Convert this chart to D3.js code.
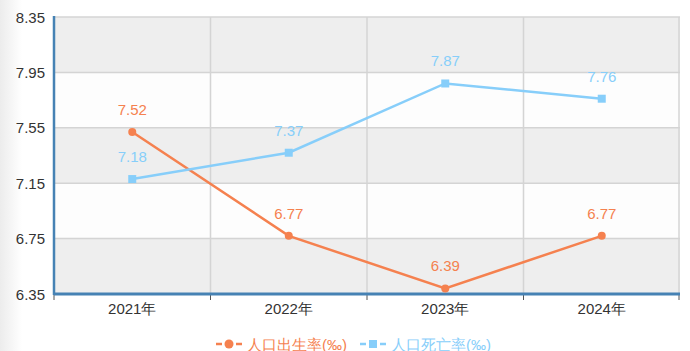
<!DOCTYPE html>
<html>
<head>
<meta charset="utf-8">
<script src="https://cdn.jsdelivr.net/npm/d3@7"></script>
<style>
  body { margin: 0; background: #fff; }
  text { font-family: "Liberation Sans", Arial, sans-serif; }
</style>
</head>
<body>
<div id="chart"></div>
<script>
const w = 690;
const h = 351;

const years = ['2021年', '2022年', '2023年', '2024年'];
const birthRate = [7.52, 6.77, 6.39, 6.77];
const deathRate = [7.18, 7.37, 7.87, 7.76];
const yTicks = [6.35, 6.75, 7.15, 7.55, 7.95, 8.35];
const seriesNames = ['人口出生率(‰)', '人口死亡率(‰)'];

const orange = '#f5814f';
const blue = '#87cefa';

const padL = 54, padR = 680, padT = 17, padB = 294;

const svg = d3.select('#chart').append('svg')
  .attr('width', w).attr('height', h);

// faint shadow on the left edge
const grad = svg.append('defs').append('linearGradient').attr('id', 'shade');
grad.append('stop').attr('offset', '0%').attr('stop-color', '#ececec');
grad.append('stop').attr('offset', '100%').attr('stop-color', '#fff');
svg.append('rect').attr('x', 0).attr('y', 0).attr('width', 22).attr('height', h)
  .attr('fill', 'url(#shade)');

const xScale = d3.scaleBand().domain(years).range([padL, padR]);
const yScale = d3.scaleLinear().domain([6.35, 8.35]).range([padB, padT]);

// alternating bands
for (let i = 0; i < yTicks.length - 1; i++) {
  svg.append('rect')
    .attr('x', padL).attr('width', padR - padL)
    .attr('y', yScale(yTicks[i + 1]))
    .attr('height', yScale(yTicks[i]) - yScale(yTicks[i + 1]))
    .attr('fill', i % 2 === 0 ? '#eeeeee' : '#fdfdfd');
}

// horizontal grid
svg.append('g').selectAll('line').data(yTicks).enter().append('line')
  .attr('x1', padL).attr('x2', padR)
  .attr('y1', d => yScale(d)).attr('y2', d => yScale(d))
  .attr('stroke', '#d4d4d4').attr('stroke-width', 1.5);

// vertical grid
svg.append('g').selectAll('line').data(years.slice(1).concat(['end'])).enter().append('line')
  .attr('x1', d => d === 'end' ? padR - 1 : xScale(d))
  .attr('x2', d => d === 'end' ? padR - 1 : xScale(d))
  .attr('y1', padT).attr('y2', padB)
  .attr('stroke', '#d4d4d4').attr('stroke-width', 1.5);

// y axis labels
svg.append('g').selectAll('text').data(yTicks).enter().append('text')
  .attr('x', 45).attr('y', d => yScale(d))
  .attr('text-anchor', 'end').attr('dominant-baseline', 'central')
  .style('font-size', '15px').style('fill', '#333')
  .text(d => d.toFixed(2));

// x axis
const xAxis = svg.append('g')
  .attr('transform', 'translate(0,' + padB + ')')
  .call(d3.axisBottom(xScale).tickSize(0).tickPadding(9));
xAxis.select('.domain').remove();
xAxis.selectAll('text').style('font-size', '15px').style('fill', '#333')
  .style('font-family', '"Liberation Sans", Arial, sans-serif');

// small ticks between categories
const tickX = [padL].concat(years.slice(1).map(d => xScale(d))).concat([padR - 1]);
svg.append('g').selectAll('line').data(tickX).enter().append('line')
  .attr('x1', d => d).attr('x2', d => d)
  .attr('y1', padB).attr('y2', padB + 6)
  .attr('stroke', '#555').attr('stroke-width', 1);

// axis lines
svg.append('line').attr('x1', padL).attr('x2', padL).attr('y1', padT - 1).attr('y2', padB + 1)
  .attr('stroke', '#4682b4').attr('stroke-width', 2.5);
svg.append('line').attr('x1', padL).attr('x2', padR).attr('y1', padB).attr('y2', padB)
  .attr('stroke', '#4682b4').attr('stroke-width', 3);

const cx = d => xScale(d) + xScale.bandwidth() / 2;

function drawSeries(values, color, shape) {
  const pts = years.map((y, i) => [cx(y), yScale(values[i]), values[i]]);
  svg.append('path').datum(pts)
    .attr('fill', 'none').attr('stroke', color).attr('stroke-width', 2.5)
    .attr('d', d3.line().x(d => d[0]).y(d => d[1]));
  const g = svg.append('g');
  if (shape === 'circle') {
    g.selectAll('circle').data(pts).enter().append('circle')
      .attr('cx', d => d[0]).attr('cy', d => d[1]).attr('r', 4).attr('fill', color);
  } else {
    g.selectAll('rect').data(pts).enter().append('rect')
      .attr('x', d => d[0] - 4).attr('y', d => d[1] - 4)
      .attr('width', 8).attr('height', 8).attr('fill', color);
  }
  svg.append('g').selectAll('text').data(pts).enter().append('text')
    .attr('x', d => d[0]).attr('y', d => d[1] - 17)
    .attr('text-anchor', 'middle')
    .style('font-size', '15px').style('fill', color)
    .text(d => d[2].toFixed(2));
}

drawSeries(birthRate, orange, 'circle');
drawSeries(deathRate, blue, 'square');

// legend
const legend = svg.append('g');
const items = [
  { name: seriesNames[0], color: orange, shape: 'circle', x: 216 },
  { name: seriesNames[1], color: blue, shape: 'square', x: 360 }
];
items.forEach(it => {
  const ly = 344;
  legend.append('line').attr('x1', it.x).attr('x2', it.x + 26)
    .attr('y1', ly).attr('y2', ly).attr('stroke', it.color).attr('stroke-width', 2.5)
    .attr('stroke-dasharray', '6,3,8,3,6');
  if (it.shape === 'circle') {
    legend.append('circle').attr('cx', it.x + 13).attr('cy', ly).attr('r', 4.5).attr('fill', it.color);
  } else {
    legend.append('rect').attr('x', it.x + 9).attr('y', ly - 4).attr('width', 8).attr('height', 8).attr('fill', it.color);
  }
  legend.append('text').attr('x', it.x + 31).attr('y', ly)
    .attr('dominant-baseline', 'central')
    .style('font-size', '15px').style('fill', it.color)
    .text(it.name);
});
</script>
</body>
</html>
